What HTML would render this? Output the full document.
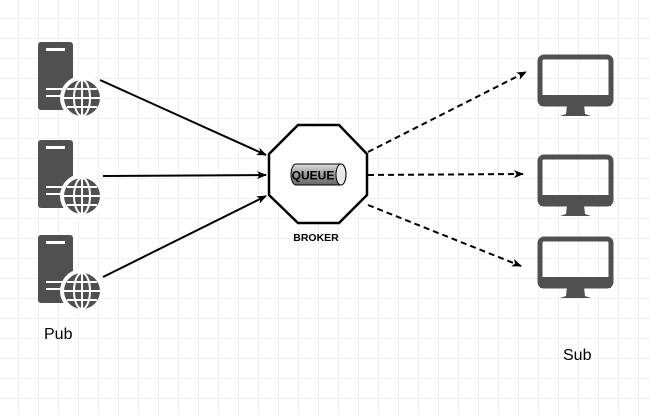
<!DOCTYPE html>
<html><head><style>
body{margin:0;width:650px;height:415px;overflow:hidden;background:#fff;
background-image:linear-gradient(#f0f0f0 1px,transparent 1px),linear-gradient(90deg,#f0f0f0 1px,transparent 1px);
background-size:20px 20px;background-position:-2px -2px;}
</style></head><body>
<svg width="650" height="415" style="position:absolute;left:0;top:0" font-family="Liberation Sans, sans-serif">
<defs>
<marker id="a" markerWidth="10" markerHeight="8" refX="9" refY="4" orient="auto" markerUnits="userSpaceOnUse"><path d="M0,0L10,4L0,8L2.5,4Z" fill="#000"/></marker>
<linearGradient id="q" x1="0" y1="0" x2="0" y2="1"><stop offset="0" stop-color="#ddd"/><stop offset="0.5" stop-color="#999"/><stop offset="1" stop-color="#666"/></linearGradient>
<g id="srv">
<rect x="0" y="0" width="35" height="68" rx="3" fill="#505050"/>
<rect x="8" y="6" width="19" height="3" fill="#fff"/>
<rect x="8" y="46" width="19" height="2" fill="#fff"/>
<rect x="8" y="53" width="19" height="2" fill="#fff"/>
<circle cx="44" cy="56" r="22" fill="#fff"/>
<circle cx="44" cy="56" r="18" fill="#505050"/>
<g stroke="#fff" stroke-width="2" fill="none">
<ellipse cx="44" cy="56" rx="8" ry="18"/>
<line x1="44" y1="38" x2="44" y2="74"/>
<line x1="26" y1="56" x2="62" y2="56"/>
<line x1="29" y1="47" x2="59" y2="47"/>
<line x1="29" y1="65" x2="59" y2="65"/>
</g>
</g>
<g id="mon">
<rect x="2" y="2" width="71" height="47" rx="4" fill="none" stroke="#505050" stroke-width="5"/>
<rect x="2" y="40" width="71" height="11" fill="#505050"/>
<path d="M29,50L46,50L47,59L53,61L22,61L28,59Z" fill="#505050"/>
</g>
</defs>
<use href="#srv" x="38" y="42"/>
<use href="#srv" x="38" y="140"/>
<use href="#srv" x="38" y="235"/>
<use href="#mon" x="538" y="55"/>
<use href="#mon" x="538" y="155"/>
<use href="#mon" x="538" y="237"/>
<polygon points="298,125 339,125 367,154 367,195 339,223 298,223 269,195 269,154" fill="#fff" stroke="#000" stroke-width="2.5"/>
<path d="M296,164L341,164A5,10.5 0 0 1 341,185L296,185A5,10.5 0 0 1 296,164Z" fill="url(#q)" stroke="#000" stroke-width="1"/>
<ellipse cx="341" cy="174.5" rx="5" ry="10.5" fill="#e8e8e8" stroke="#000" stroke-width="1"/>
<text x="313" y="179.5" font-size="12" font-weight="bold" text-anchor="middle" fill="#000">QUEUE</text>
<text x="316" y="241" font-size="10.5" font-weight="bold" text-anchor="middle" fill="#000">BROKER</text>
<g stroke="#000" stroke-width="2" fill="none" marker-end="url(#a)">
<line x1="100" y1="80" x2="266" y2="155"/>
<line x1="103" y1="176" x2="266" y2="175"/>
<line x1="103" y1="277" x2="266" y2="196"/>
<g stroke-dasharray="6,4">
<line x1="368" y1="152" x2="526" y2="72"/>
<line x1="368" y1="175" x2="523" y2="174"/>
<line x1="368" y1="205" x2="521" y2="266"/>
</g>
</g>
<text x="44" y="339" font-size="16" fill="#000">Pub</text>
<text x="563" y="360" font-size="16" fill="#000">Sub</text>
</svg>
</body></html>
